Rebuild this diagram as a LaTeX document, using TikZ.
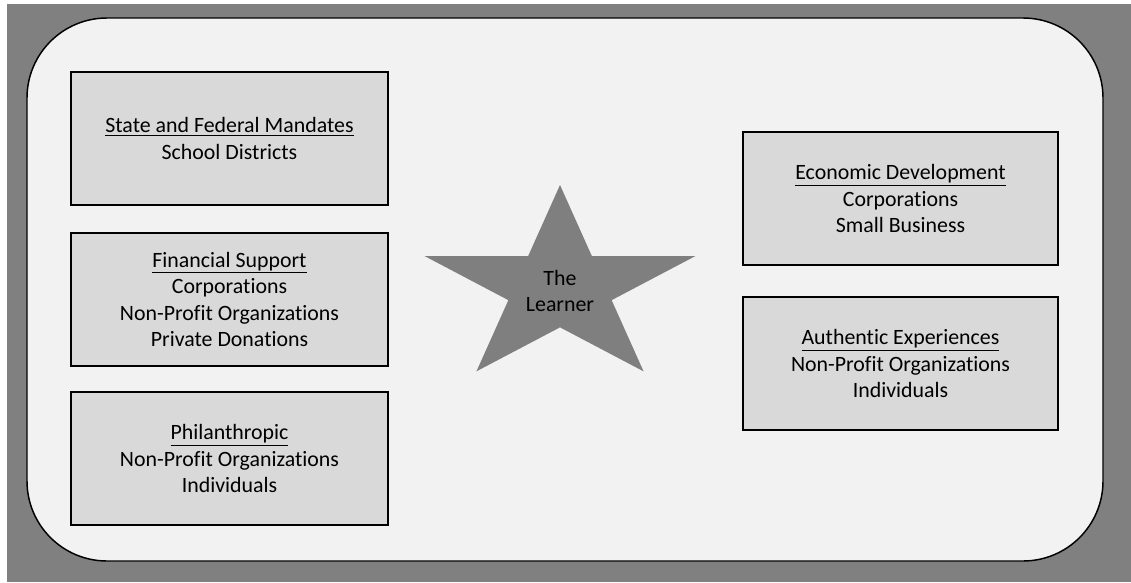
\documentclass[tikz,border=0pt]{standalone}
\usepackage{fontspec}
\setmainfont{Carlito}[RawFeature={-liga}]
\usetikzlibrary{shapes.geometric, positioning}
\definecolor{framegray}{HTML}{808080}
\definecolor{panelwhite}{HTML}{F2F2F2}
\definecolor{boxgray}{HTML}{D9D9D9}
\definecolor{stargray}{HTML}{7F7F7F}
\tikzstyle{panel} = [
    fill=panelwhite,
    draw=black,
    line width=1.1pt,
    rounded corners=60pt
]
\tikzstyle{partner} = [
    rectangle,
    minimum width=237.5pt,
    minimum height=99.75pt,
    inner sep=0pt,
    outer sep=0pt,
    fill=boxgray,
    draw=black,
    line width=1.4pt,
    align=center,
    font=\fontsize{16.4}{19.9}\selectfont
]
\tikzstyle{learnerstar} = [
    star,
    star points=5,
    star point ratio=2.618,
    minimum size=154.5pt,
    inner sep=0pt,
    fill=stargray,
    draw=none,
    xscale=1.38,
    transform shape
]

\begin{document}
\begin{tikzpicture}[x=0.75pt, y=-0.75pt, node distance=20pt]

\useasboundingbox (0,0) rectangle (1131,582);
\fill[white] (0,0) rectangle (1131,582);
\fill[framegray] (7,4) rectangle (1131,582);
\draw[panel] (27,18) rectangle (1103,561);

\node (mandates) [partner] at (229.5,138.5)
{\underline{State and Federal Mandates}\\School Districts};

\node (financial) [partner, below=21pt of mandates]
{\underline{Financial Support}\\Corporations\\Non-Profit Organizations\\Private Donations};

\node (philanthropic) [partner, below=19.5pt of financial]
{\underline{Philanthropic}\\Non-Profit Organizations\\Individuals};

\node (economic) [partner, minimum width=236pt] at (900.5,198.5)
{\underline{Economic Development}\\Corporations\\Small Business};

\node (authentic) [partner, minimum width=236pt, below=24pt of economic]
{\underline{Authentic Experiences}\\Non-Profit Organizations\\Individuals};

\node (star) [learnerstar] at (560,288) {};
\node (learner) [align=center, font=\fontsize{16.4}{19.5}\selectfont] at (560,291)
{The\\Learner};

\end{tikzpicture}
\end{document}
